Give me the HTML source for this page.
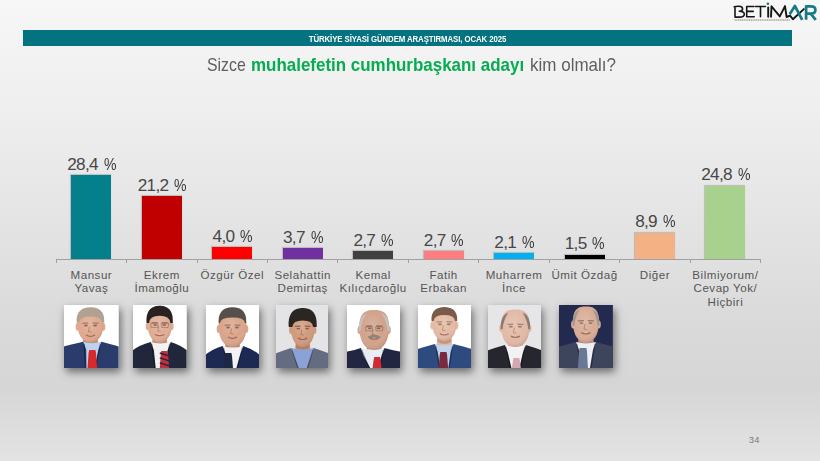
<!DOCTYPE html>
<html><head><meta charset="utf-8">
<style>
html,body{margin:0;padding:0;}
body{width:820px;height:461px;overflow:hidden;position:relative;font-family:"Liberation Sans",sans-serif;
background:linear-gradient(to bottom,#f7f7f7 0%,#eeeeee 25%,#e3e3e3 50%,#d9d9d9 72%,#d6d6d6 84%,#e3e3e3 100%);}
.hdr{position:absolute;left:23px;top:30px;width:769px;height:16px;background:#04737f;}
.hdrt{position:absolute;left:0;top:32.6px;width:815px;text-align:center;color:#fff;font-weight:bold;font-size:8.7px;line-height:12px;letter-spacing:-0.1px;white-space:nowrap;transform:scaleX(0.9)}
.t{position:absolute;top:52.9px;font-size:19px;line-height:24px;white-space:nowrap;transform-origin:0 0}
.g1{color:#5f5f5f}
.gr{color:#06ac50;font-weight:bold}
.bar{position:absolute;width:40px;box-shadow:-0.4px -0.3px 0.8px 0.3px rgba(60,60,60,0.22)}
.val{position:absolute;width:80px;text-align:center;font-size:17.2px;color:#474747;line-height:20px;white-space:nowrap;letter-spacing:-0.7px;word-spacing:1.7px}
.pc{display:inline-block;transform:scaleX(0.82);transform-origin:0 50%;margin-right:-2.7px;color:#3a3a3a}
.cat{position:absolute;width:90px;top:267.5px;text-align:center;font-size:11.6px;color:#555555;line-height:13.8px;white-space:nowrap;letter-spacing:0.5px}
.axis{position:absolute;left:56.20px;top:258.80px;width:704.40px;height:1px;background:#a0a0a0}
.tick{position:absolute;top:259.30px;width:1px;height:3.5px;background:#a0a0a0}
.photo{position:absolute;top:305.1px;height:62.9px;box-shadow:1.5px 4px 8px rgba(0,0,0,0.5)}
.photo svg{display:block;width:100%;height:100%}
.pg{position:absolute;left:748.8px;top:434.2px;font-size:9.4px;color:#7a7a7a;letter-spacing:0.2px}
.logo{position:absolute;left:730px;top:0px}
</style></head><body>
<svg width="0" height="0" style="position:absolute"><defs><filter id="bl" x="-10%" y="-10%" width="120%" height="120%"><feGaussianBlur stdDeviation="0.6"/></filter><radialGradient id="fsh" cx="0.45" cy="0.4" r="0.65"><stop offset="0" stop-color="#fff" stop-opacity="0.18"/><stop offset="0.6" stop-color="#fff" stop-opacity="0"/><stop offset="1" stop-color="#502010" stop-opacity="0.22"/></radialGradient></defs></svg>
<svg class="logo" width="90" height="24" viewBox="730 0 90 24">
<g fill="none" stroke="#161616" stroke-width="1.6" stroke-linecap="round" stroke-linejoin="round">
<path d="M734.2 6.8 Q736 6.2 739 6.3 Q742.6 6.6 742.6 9 Q742.6 11 739.3 11.2 Q744.3 11.5 744.3 14.2 Q744.3 17.1 739.5 17.1 L735.4 17.1 M735 6.8 L735 17.1"/>
<path d="M754 6.5 L746.7 6.5 L746.7 16.8 L754.2 16.8 M746.7 11.4 L753.2 11.4"/>
<path d="M755.6 6.5 L765.4 6.5 M760.5 6.5 L760.5 16.8"/>
<path d="M768.2 7.4 L768.2 16.8" stroke-width="1.9"/>
<path stroke-width="1.9" d="M771 16.8 L771.5 6.3 L779.8 16.4 L785 6.1 L786.6 17 L790 15.6 L792.9 19.2 L803.8 9.1"/>
</g>
<circle cx="767.9" cy="3.7" r="1.3" fill="#1c7884"/>
<g fill="none" stroke="#167a86" stroke-width="2.7" stroke-linecap="butt" stroke-linejoin="round">
<path d="M789.7 14.2 L794.9 6.0 L802.2 19.8"/>
<path d="M806.1 19.8 L806.1 6.4 L811 6.4 Q815.4 6.4 815.4 10 Q815.4 13.6 811 13.6 L806.1 13.6 M810.6 13.6 L815.8 19.8"/>
</g>
<path d="M734.5 20 L790 20" stroke="#808080" stroke-width="1.0" stroke-dasharray="1.3 0.5"/>
</svg>
<div class="hdr"></div>
<div class="hdrt" id="hdrt">TÜRKİYE SİYASİ GÜNDEM ARAŞTIRMASI, OCAK 2025</div>
<span class="t g1" id="t1" style="left:206.8px;transform:scaleX(0.835)">Sizce</span>
<span class="t gr" id="t2" style="left:250.5px;transform:scaleX(0.892)">muhalefetin cumhurbaşkanı adayı</span>
<span class="t g1" id="t3" style="left:529.5px;transform:scaleX(0.895)">kim olmalı?</span>
<div class="bar" style="left:71.42px;top:175.09px;height:84.21px;background:#03808b"></div><div class="val" id="v0" style="left:51.42px;top:153.59px">28,4 <span class="pc">%</span></div><div class="cat" id="c0" style="left:46.42px">Mansur<br>Yavaş</div><div class="bar" style="left:141.86px;top:196.44px;height:62.86px;background:#c00000"></div><div class="val" id="v1" style="left:121.86px;top:174.94px">21,2 <span class="pc">%</span></div><div class="cat" id="c1" style="left:116.86px">Ekrem<br>İmamoğlu</div><div class="bar" style="left:212.30px;top:247.44px;height:11.86px;background:#ff0000"></div><div class="val" id="v2" style="left:192.30px;top:225.94px">4,0 <span class="pc">%</span></div><div class="cat" id="c2" style="left:187.30px">Özgür Özel</div><div class="bar" style="left:282.74px;top:248.33px;height:10.97px;background:#7030a0"></div><div class="val" id="v3" style="left:262.74px;top:226.83px">3,7 <span class="pc">%</span></div><div class="cat" id="c3" style="left:257.74px">Selahattin<br>Demirtaş</div><div class="bar" style="left:353.18px;top:251.29px;height:8.01px;background:#404040"></div><div class="val" id="v4" style="left:333.18px;top:229.79px">2,7 <span class="pc">%</span></div><div class="cat" id="c4" style="left:328.18px">Kemal<br>Kılıçdaroğlu</div><div class="bar" style="left:423.62px;top:251.29px;height:8.01px;background:#ff7c80"></div><div class="val" id="v5" style="left:403.62px;top:229.79px">2,7 <span class="pc">%</span></div><div class="cat" id="c5" style="left:398.62px">Fatih<br>Erbakan</div><div class="bar" style="left:494.06px;top:253.07px;height:6.23px;background:#00b0f0"></div><div class="val" id="v6" style="left:474.06px;top:231.57px">2,1 <span class="pc">%</span></div><div class="cat" id="c6" style="left:469.06px">Muharrem<br>İnce</div><div class="bar" style="left:564.50px;top:254.85px;height:4.45px;background:#000000"></div><div class="val" id="v7" style="left:544.50px;top:233.35px">1,5 <span class="pc">%</span></div><div class="cat" id="c7" style="left:539.50px">Ümit Özdağ</div><div class="bar" style="left:634.94px;top:232.91px;height:26.39px;background:#f4b183"></div><div class="val" id="v8" style="left:614.94px;top:211.41px">8,9 <span class="pc">%</span></div><div class="cat" id="c8" style="left:609.94px">Diğer</div><div class="bar" style="left:705.38px;top:185.77px;height:73.53px;background:#a9d18e"></div><div class="val" id="v9" style="left:685.38px;top:164.27px">24,8 <span class="pc">%</span></div><div class="cat" id="c9" style="left:680.38px">Bilmiyorum/<br>Cevap Yok/<br>Hiçbiri</div>
<div class="axis"></div>
<div class="tick" style="left:55.70px"></div><div class="tick" style="left:126.14px"></div><div class="tick" style="left:196.58px"></div><div class="tick" style="left:267.02px"></div><div class="tick" style="left:337.46px"></div><div class="tick" style="left:407.90px"></div><div class="tick" style="left:478.34px"></div><div class="tick" style="left:548.78px"></div><div class="tick" style="left:619.22px"></div><div class="tick" style="left:689.66px"></div><div class="tick" style="left:760.10px"></div>
<div class="photo" style="left:64.3px;width:54.6px"><svg viewBox="0 0 54 63" preserveAspectRatio="none"><defs><clipPath id="cp0"><rect width="54" height="63"/></clipPath></defs><g clip-path="url(#cp0)"><rect width="54" height="63" fill="#ffffff"/><g filter="url(#bl)"><path d="M19.20 29.60 L33.20 29.60 L34.20 40.80 L18.20 40.80Z" fill="#e0a88e"/><path d="M19.20 34.60 Q26.2 40.60 33.20 34.60 L33.20 38.60 Q26.2 42.60 19.20 38.60Z" fill="rgba(90,50,30,0.25)"/><path d="M-2 63 L-2 42.00 Q6 39.80 19.00 36.80 L26.20 45.80 L37.00 36.80 Q48 39.80 56 42.00 L56 63Z" fill="#2a3b6c"/><path d="M19.00 36.80 Q26.2 39.80 37.00 36.80 L34.00 44.80 L30.20 63 L22.20 63 L22.00 44.80Z" fill="#bcd2ee"/><path d="M20.00 38.80 L21.20 63 M36.00 38.80 L31.20 63" stroke="rgba(0,0,0,0.35)" stroke-width="1.2" fill="none"/><path d="M24.90 45.00 L31.10 45.00 L31.70 48.00 L32.70 63 L23.30 63 L24.30 48.00Z" fill="#d82a2a"/><ellipse cx="13.70" cy="21.80" rx="2.2" ry="4" fill="#e0a88e"/><ellipse cx="38.70" cy="21.80" rx="2.2" ry="4" fill="#e0a88e"/><path d="M13.40 19.27 C13.40 8.00 19.16 6.00 26.20 6.00 C33.24 6.00 39.00 8.00 39.00 19.27 C39.00 31.60 32.60 37.60 26.20 37.60 C19.80 37.60 13.40 31.60 13.40 19.27Z" fill="#e0a88e"/><path d="M13.40 19.27 C13.40 8.00 19.16 6.00 26.20 6.00 C33.24 6.00 39.00 8.00 39.00 19.27 C39.00 31.60 32.60 37.60 26.20 37.60 C19.80 37.60 13.40 31.60 13.40 19.27Z" fill="url(#fsh)"/><path d="M18.20 18.34 L24.20 18.04 M28.20 18.04 L34.20 18.34" stroke="rgba(50,30,20,0.45)" stroke-width="1.1"/><ellipse cx="21.70" cy="20.54" rx="2" ry="0.9" fill="rgba(40,20,15,0.45)"/><ellipse cx="30.70" cy="20.54" rx="2" ry="0.9" fill="rgba(40,20,15,0.45)"/><path d="M25.20 21.54 L24.20 26.54 L27.20 27.04" stroke="rgba(90,45,30,0.35)" stroke-width="0.9" fill="none"/><path d="M21.70 30.04 Q26.2 32.54 30.70 30.04" stroke="rgba(120,50,40,0.6)" stroke-width="1.3" fill="rgba(250,250,250,0.5)"/><path d="M12.60 17.50 C11.60 5.20 19.40 2.20 26.20 2.20 C33.00 2.20 40.80 5.20 39.80 17.50 L37.50 17.50 Q37.00 11.50 26.20 11.50 Q15.40 11.50 14.90 17.50Z" fill="#b0a292"/></g></g></svg></div><div class="photo" style="left:133.1px;width:53.6px"><svg viewBox="0 0 54 63" preserveAspectRatio="none"><defs><clipPath id="cp1"><rect width="54" height="63"/></clipPath></defs><g clip-path="url(#cp1)"><rect width="54" height="63" fill="#ffffff"/><g filter="url(#bl)"><path d="M19.90 29.60 L33.90 29.60 L34.90 41.00 L18.90 41.00Z" fill="#e0ac92"/><path d="M19.90 34.60 Q26.9 40.60 33.90 34.60 L33.90 38.60 Q26.9 42.60 19.90 38.60Z" fill="rgba(90,50,30,0.25)"/><path d="M-2 63 L-2 46.50 Q6 40.00 18.00 37.00 L26.90 46.00 L38.00 37.00 Q48 40.00 56 46.50 L56 63Z" fill="#22283a"/><path d="M18.00 37.00 Q26.9 40.00 38.00 37.00 L35.00 45.00 L30.90 63 L22.90 63 L21.00 45.00Z" fill="#f2f2f2"/><path d="M19.00 39.00 L21.90 63 M37.00 39.00 L31.90 63" stroke="rgba(0,0,0,0.35)" stroke-width="1.2" fill="none"/><path d="M28.60 46.00 L34.80 46.00 L35.40 49.00 L36.40 63 L27.00 63 L28.00 49.00Z" fill="#c0303a"/><path d="M27.00 48.00 L36.40 51.00" stroke="#1c2444" stroke-width="1.5"/><path d="M27.00 53.00 L36.40 56.00" stroke="#1c2444" stroke-width="1.5"/><path d="M27.00 58.00 L36.40 61.00" stroke="#1c2444" stroke-width="1.5"/><ellipse cx="15.00" cy="21.30" rx="2.2" ry="4" fill="#e0ac92"/><ellipse cx="38.80" cy="21.30" rx="2.2" ry="4" fill="#e0ac92"/><path d="M14.70 18.69 C14.70 7.00 20.19 5.00 26.90 5.00 C33.61 5.00 39.10 7.00 39.10 18.69 C39.10 31.60 33.00 37.60 26.90 37.60 C20.80 37.60 14.70 31.60 14.70 18.69Z" fill="#e0ac92"/><path d="M14.70 18.69 C14.70 7.00 20.19 5.00 26.90 5.00 C33.61 5.00 39.10 7.00 39.10 18.69 C39.10 31.60 33.00 37.60 26.90 37.60 C20.80 37.60 14.70 31.60 14.70 18.69Z" fill="url(#fsh)"/><path d="M18.90 17.80 L24.90 17.50 M28.90 17.50 L34.90 17.80" stroke="rgba(50,30,20,0.45)" stroke-width="1.1"/><ellipse cx="22.40" cy="20.00" rx="2" ry="0.9" fill="rgba(40,20,15,0.45)"/><ellipse cx="31.40" cy="20.00" rx="2" ry="0.9" fill="rgba(40,20,15,0.45)"/><path d="M25.90 21.00 L24.90 26.00 L27.90 26.50" stroke="rgba(90,45,30,0.35)" stroke-width="0.9" fill="none"/><path d="M22.40 29.50 Q26.9 32.00 31.40 29.50" stroke="rgba(120,50,40,0.6)" stroke-width="1.3" fill="rgba(250,250,250,0.5)"/><path d="M17.90 18.50 L25.40 18.50 L24.90 22.50 L18.40 22.50Z M35.90 18.50 L28.40 18.50 L28.90 22.50 L35.40 22.50Z" stroke="rgba(70,50,40,0.45)" stroke-width="0.7" fill="none"/><path d="M13.70 18.00 C12.70 3.80 20.30 0.80 26.90 0.80 C33.50 0.80 41.10 3.80 40.10 18.00 L37.60 18.00 Q37.10 10.80 26.90 10.80 Q16.70 10.80 16.20 18.00Z" fill="#2a2220"/></g></g></svg></div><div class="photo" style="left:205.6px;width:53.0px"><svg viewBox="0 0 54 63" preserveAspectRatio="none"><defs><clipPath id="cp2"><rect width="54" height="63"/></clipPath></defs><g clip-path="url(#cp2)"><rect width="54" height="63" fill="#ffffff"/><g filter="url(#bl)"><path d="M20.00 34.00 L34.00 34.00 L35.00 45.00 L19.00 45.00Z" fill="#daa48a"/><path d="M20.00 39.00 Q27.0 45.00 34.00 39.00 L34.00 43.00 Q27.0 47.00 20.00 43.00Z" fill="rgba(90,50,30,0.25)"/><path d="M-2 63 L-2 51.00 Q6 44.00 17.00 41.00 L27.00 50.00 L38.00 41.00 Q48 44.00 56 51.00 L56 63Z" fill="#1e2a52"/><path d="M17.00 41.00 Q27.0 44.00 38.00 41.00 L35.00 49.00 L31.00 63 L23.00 63 L20.00 49.00Z" fill="#f2f2f2"/><path d="M18.00 43.00 L22.00 63 M37.00 43.00 L32.00 63" stroke="rgba(0,0,0,0.35)" stroke-width="1.2" fill="none"/><path d="M19.60 48.00 L25.90 48.00 L26.50 51.00 L27.50 63 L18.00 63 L19.00 51.00Z" fill="#1e2844"/><ellipse cx="13.10" cy="24.00" rx="2.2" ry="4" fill="#daa48a"/><ellipse cx="40.90" cy="24.00" rx="2.2" ry="4" fill="#daa48a"/><path d="M12.80 21.12 C12.80 8.00 19.19 6.00 27.00 6.00 C34.81 6.00 41.20 8.00 41.20 21.12 C41.20 36.00 34.10 42.00 27.00 42.00 C19.90 42.00 12.80 36.00 12.80 21.12Z" fill="#daa48a"/><path d="M12.80 21.12 C12.80 8.00 19.19 6.00 27.00 6.00 C34.81 6.00 41.20 8.00 41.20 21.12 C41.20 36.00 34.10 42.00 27.00 42.00 C19.90 42.00 12.80 36.00 12.80 21.12Z" fill="url(#fsh)"/><path d="M19.00 20.36 L25.00 20.06 M29.00 20.06 L35.00 20.36" stroke="rgba(50,30,20,0.45)" stroke-width="1.1"/><ellipse cx="22.50" cy="22.56" rx="2" ry="0.9" fill="rgba(40,20,15,0.45)"/><ellipse cx="31.50" cy="22.56" rx="2" ry="0.9" fill="rgba(40,20,15,0.45)"/><path d="M26.00 23.56 L25.00 28.56 L28.00 29.06" stroke="rgba(90,45,30,0.35)" stroke-width="0.9" fill="none"/><path d="M22.50 32.06 Q27.0 34.56 31.50 32.06" stroke="rgba(120,50,40,0.6)" stroke-width="1.3" fill="rgba(250,250,250,0.5)"/><path d="M13.00 18.00 C12.00 5.20 20.00 2.20 27.00 2.20 C34.00 2.20 42.00 5.20 41.00 18.00 L39.70 18.00 Q39.20 12.50 27.00 12.50 Q14.80 12.50 14.30 18.00Z" fill="#56504c"/></g></g></svg></div><div class="photo" style="left:275.5px;width:52.5px"><svg viewBox="0 0 54 63" preserveAspectRatio="none"><defs><clipPath id="cp3"><rect width="54" height="63"/></clipPath></defs><g clip-path="url(#cp3)"><rect width="54" height="63" fill="#e4e4e6"/><g filter="url(#bl)"><path d="M20.50 34.00 L34.50 34.00 L35.50 47.00 L19.50 47.00Z" fill="#d09a7c"/><path d="M20.50 39.00 Q27.5 45.00 34.50 39.00 L34.50 43.00 Q27.5 47.00 20.50 43.00Z" fill="rgba(90,50,30,0.25)"/><path d="M-2 63 L-2 49.00 Q6 46.00 15.50 43.00 L27.50 52.00 L39.00 43.00 Q48 46.00 56 49.00 L56 63Z" fill="#646c80"/><path d="M15.50 43.00 Q27.5 46.00 39.00 43.00 L36.00 51.00 L31.50 63 L23.50 63 L18.50 51.00Z" fill="#8aa2d8"/><path d="M16.50 45.00 L22.50 63 M38.00 45.00 L32.50 63" stroke="rgba(0,0,0,0.35)" stroke-width="1.2" fill="none"/><ellipse cx="15.60" cy="25.00" rx="2.2" ry="4" fill="#d09a7c"/><ellipse cx="39.40" cy="25.00" rx="2.2" ry="4" fill="#d09a7c"/><path d="M15.30 22.28 C15.30 10.00 20.79 8.00 27.50 8.00 C34.21 8.00 39.70 10.00 39.70 22.28 C39.70 36.00 33.60 42.00 27.50 42.00 C21.40 42.00 15.30 36.00 15.30 22.28Z" fill="#d09a7c"/><path d="M15.30 22.28 C15.30 10.00 20.79 8.00 27.50 8.00 C34.21 8.00 39.70 10.00 39.70 22.28 C39.70 36.00 33.60 42.00 27.50 42.00 C21.40 42.00 15.30 36.00 15.30 22.28Z" fill="url(#fsh)"/><path d="M19.50 21.44 L25.50 21.14 M29.50 21.14 L35.50 21.44" stroke="rgba(50,30,20,0.45)" stroke-width="1.1"/><ellipse cx="23.00" cy="23.64" rx="2" ry="0.9" fill="rgba(40,20,15,0.45)"/><ellipse cx="32.00" cy="23.64" rx="2" ry="0.9" fill="rgba(40,20,15,0.45)"/><path d="M26.50 24.64 L25.50 29.64 L28.50 30.14" stroke="rgba(90,45,30,0.35)" stroke-width="0.9" fill="none"/><path d="M23.00 33.14 Q27.5 35.64 32.00 33.14" stroke="rgba(120,50,40,0.6)" stroke-width="1.3" fill="rgba(250,250,250,0.5)"/><path d="M13.10 22.00 C12.10 6.00 20.30 3.00 27.50 3.00 C34.70 3.00 42.90 6.00 41.90 22.00 L38.20 22.00 Q37.70 15.50 27.50 15.50 Q17.30 15.50 16.80 22.00Z" fill="#2c2622"/></g></g></svg></div><div class="photo" style="left:346.5px;width:53.3px"><svg viewBox="0 0 54 63" preserveAspectRatio="none"><defs><clipPath id="cp4"><rect width="54" height="63"/></clipPath></defs><g clip-path="url(#cp4)"><rect width="54" height="63" fill="#ffffff"/><g filter="url(#bl)"><path d="M20.50 37.00 L34.50 37.00 L35.50 47.00 L19.50 47.00Z" fill="#d2a28a"/><path d="M20.50 42.00 Q27.5 48.00 34.50 42.00 L34.50 46.00 Q27.5 50.00 20.50 46.00Z" fill="rgba(90,50,30,0.25)"/><path d="M-2 63 L-2 47.00 Q6 46.00 14.00 43.00 L27.50 52.00 L38.00 43.00 Q48 46.00 56 47.00 L56 63Z" fill="#202640"/><path d="M14.00 43.00 Q27.5 46.00 38.00 43.00 L35.00 51.00 L31.50 63 L23.50 63 L17.00 51.00Z" fill="#e8eef6"/><path d="M15.00 45.00 L22.50 63 M37.00 45.00 L32.50 63" stroke="rgba(0,0,0,0.35)" stroke-width="1.2" fill="none"/><path d="M27.60 52.00 L33.40 52.00 L34.00 55.00 L35.00 63 L26.00 63 L27.00 55.00Z" fill="#d02a30"/><ellipse cx="12.80" cy="25.00" rx="2.2" ry="4" fill="#d2a28a"/><ellipse cx="42.20" cy="25.00" rx="2.2" ry="4" fill="#d2a28a"/><path d="M12.50 21.80 C12.50 7.00 19.25 5.00 27.50 5.00 C35.75 5.00 42.50 7.00 42.50 21.80 C42.50 39.00 35.00 45.00 27.50 45.00 C20.00 45.00 12.50 39.00 12.50 21.80Z" fill="#d2a28a"/><path d="M12.50 21.80 C12.50 7.00 19.25 5.00 27.50 5.00 C35.75 5.00 42.50 7.00 42.50 21.80 C42.50 39.00 35.00 45.00 27.50 45.00 C20.00 45.00 12.50 39.00 12.50 21.80Z" fill="url(#fsh)"/><path d="M19.50 21.20 L25.50 20.90 M29.50 20.90 L35.50 21.20" stroke="rgba(50,30,20,0.45)" stroke-width="1.1"/><ellipse cx="23.00" cy="23.40" rx="2" ry="0.9" fill="rgba(40,20,15,0.45)"/><ellipse cx="32.00" cy="23.40" rx="2" ry="0.9" fill="rgba(40,20,15,0.45)"/><path d="M26.50 24.40 L25.50 29.40 L28.50 29.90" stroke="rgba(90,45,30,0.35)" stroke-width="0.9" fill="none"/><path d="M23.00 32.90 Q27.5 35.40 32.00 32.90" stroke="rgba(120,50,40,0.6)" stroke-width="1.3" fill="rgba(250,250,250,0.5)"/><path d="M18.50 21.90 L26.00 21.90 L25.50 25.90 L19.00 25.90Z M36.50 21.90 L29.00 21.90 L29.50 25.90 L36.00 25.90Z" stroke="rgba(70,50,40,0.45)" stroke-width="0.7" fill="none"/><path d="M21.50 32.40 Q27.5 28.40 33.50 32.40 Q27.5 31.40 21.50 32.40Z" fill="#8a827c" stroke="#8a827c" stroke-width="1.4"/><path d="M11.90 26.00 Q11.70 11.00 20.00 8.20 Q14.50 17.00 13.90 26.00Z M43.10 26.00 Q43.30 11.00 35.00 8.20 Q40.50 17.00 41.10 26.00Z" fill="#c4c0bc"/></g></g></svg></div><div class="photo" style="left:418.2px;width:53.3px"><svg viewBox="0 0 54 63" preserveAspectRatio="none"><defs><clipPath id="cp5"><rect width="54" height="63"/></clipPath></defs><g clip-path="url(#cp5)"><rect width="54" height="63" fill="#ffffff"/><g filter="url(#bl)"><path d="M19.70 28.00 L33.70 28.00 L34.70 43.00 L18.70 43.00Z" fill="#e4baa4"/><path d="M19.70 33.00 Q26.7 39.00 33.70 33.00 L33.70 37.00 Q26.7 41.00 19.70 37.00Z" fill="rgba(90,50,30,0.25)"/><path d="M-2 63 L-2 44.50 Q6 42.00 17.00 39.00 L26.70 48.00 L36.00 39.00 Q48 42.00 56 44.50 L56 63Z" fill="#2e4c80"/><path d="M17.00 39.00 Q26.7 42.00 36.00 39.00 L33.00 47.00 L30.70 63 L22.70 63 L20.00 47.00Z" fill="#c0d4ee"/><path d="M18.00 41.00 L21.70 63 M35.00 41.00 L31.70 63" stroke="rgba(0,0,0,0.35)" stroke-width="1.2" fill="none"/><path d="M22.60 47.00 L28.90 47.00 L29.50 50.00 L30.50 63 L21.00 63 L22.00 50.00Z" fill="#7a2a3e"/><ellipse cx="14.70" cy="20.50" rx="2.2" ry="4" fill="#e4baa4"/><ellipse cx="38.70" cy="20.50" rx="2.2" ry="4" fill="#e4baa4"/><path d="M14.40 18.02 C14.40 7.00 19.93 5.00 26.70 5.00 C33.47 5.00 39.00 7.00 39.00 18.02 C39.00 30.00 32.85 36.00 26.70 36.00 C20.55 36.00 14.40 30.00 14.40 18.02Z" fill="#e4baa4"/><path d="M14.40 18.02 C14.40 7.00 19.93 5.00 26.70 5.00 C33.47 5.00 39.00 7.00 39.00 18.02 C39.00 30.00 32.85 36.00 26.70 36.00 C20.55 36.00 14.40 30.00 14.40 18.02Z" fill="url(#fsh)"/><path d="M18.70 17.06 L24.70 16.76 M28.70 16.76 L34.70 17.06" stroke="rgba(50,30,20,0.4)" stroke-width="1.1"/><ellipse cx="22.20" cy="19.26" rx="2" ry="0.9" fill="rgba(40,20,15,0.4)"/><ellipse cx="31.20" cy="19.26" rx="2" ry="0.9" fill="rgba(40,20,15,0.4)"/><path d="M25.70 20.26 L24.70 25.26 L27.70 25.76" stroke="rgba(90,45,30,0.35)" stroke-width="0.9" fill="none"/><path d="M22.20 28.76 Q26.7 31.26 31.20 28.76" stroke="rgba(120,50,40,0.6)" stroke-width="1.3" fill="rgba(250,250,250,0.5)"/><path d="M13.70 16.00 C12.70 5.00 20.20 2.00 26.70 2.00 C33.20 2.00 40.70 5.00 39.70 16.00 L37.50 16.00 Q37.00 10.00 26.70 10.00 Q16.40 10.00 15.90 16.00Z" fill="#7a5a48"/></g></g></svg></div><div class="photo" style="left:487.7px;width:53.8px"><svg viewBox="0 0 54 63" preserveAspectRatio="none"><defs><clipPath id="cp6"><rect width="54" height="63"/></clipPath></defs><g clip-path="url(#cp6)"><rect width="54" height="63" fill="#e6e6e8"/><g filter="url(#bl)"><path d="M20.50 34.00 L34.50 34.00 L35.50 44.00 L19.50 44.00Z" fill="#e2baa6"/><path d="M20.50 39.00 Q27.5 45.00 34.50 39.00 L34.50 43.00 Q27.5 47.00 20.50 43.00Z" fill="rgba(90,50,30,0.25)"/><path d="M-2 63 L-2 46.00 Q6 43.00 17.00 40.00 L27.50 49.00 L38.00 40.00 Q48 43.00 56 46.00 L56 63Z" fill="#26262e"/><path d="M17.00 40.00 Q27.5 43.00 38.00 40.00 L35.00 48.00 L31.50 63 L23.50 63 L20.00 48.00Z" fill="#f2f2f2"/><path d="M18.00 42.00 L22.50 63 M37.00 42.00 L32.50 63" stroke="rgba(0,0,0,0.35)" stroke-width="1.2" fill="none"/><path d="M25.60 53.00 L31.40 53.00 L32.00 56.00 L33.00 63 L24.00 63 L25.00 56.00Z" fill="#d4a8b0"/><ellipse cx="13.50" cy="23.20" rx="2.2" ry="4" fill="#e2baa6"/><ellipse cx="41.50" cy="23.20" rx="2.2" ry="4" fill="#e2baa6"/><path d="M13.20 20.19 C13.20 6.40 19.63 4.40 27.50 4.40 C35.37 4.40 41.80 6.40 41.80 20.19 C41.80 36.00 34.65 42.00 27.50 42.00 C20.35 42.00 13.20 36.00 13.20 20.19Z" fill="#e2baa6"/><path d="M13.20 20.19 C13.20 6.40 19.63 4.40 27.50 4.40 C35.37 4.40 41.80 6.40 41.80 20.19 C41.80 36.00 34.65 42.00 27.50 42.00 C20.35 42.00 13.20 36.00 13.20 20.19Z" fill="url(#fsh)"/><path d="M19.50 19.50 L25.50 19.20 M29.50 19.20 L35.50 19.50" stroke="rgba(50,30,20,0.4)" stroke-width="1.1"/><ellipse cx="23.00" cy="21.70" rx="2" ry="0.9" fill="rgba(40,20,15,0.4)"/><ellipse cx="32.00" cy="21.70" rx="2" ry="0.9" fill="rgba(40,20,15,0.4)"/><path d="M26.50 22.70 L25.50 27.70 L28.50 28.20" stroke="rgba(90,45,30,0.35)" stroke-width="0.9" fill="none"/><path d="M23.00 31.20 Q27.5 33.70 32.00 31.20" stroke="rgba(120,50,40,0.6)" stroke-width="1.3" fill="rgba(250,250,250,0.5)"/><path d="M12.60 24.20 Q12.40 10.04 20.35 7.41 Q15.20 15.68 14.60 24.20Z M42.40 24.20 Q42.60 10.04 34.65 7.41 Q39.80 15.68 40.40 24.20Z" fill="#8a7a72"/></g></g></svg></div><div class="photo" style="left:558.9px;width:53.9px"><svg viewBox="0 0 54 63" preserveAspectRatio="none"><defs><clipPath id="cp7"><rect width="54" height="63"/></clipPath></defs><g clip-path="url(#cp7)"><rect width="54" height="63" fill="#232a50"/><g filter="url(#bl)"><path d="M20.00 29.60 L34.00 29.60 L35.00 41.00 L19.00 41.00Z" fill="#d8ac96"/><path d="M20.00 34.60 Q27.0 40.60 34.00 34.60 L34.00 38.60 Q27.0 42.60 20.00 38.60Z" fill="rgba(90,50,30,0.25)"/><path d="M-2 63 L-2 42.00 Q6 40.00 17.00 37.00 L27.00 46.00 L37.00 37.00 Q48 40.00 56 42.00 L56 63Z" fill="#3e445c"/><path d="M17.00 37.00 Q27.0 40.00 37.00 37.00 L34.00 45.00 L31.00 63 L23.00 63 L20.00 45.00Z" fill="#eceff4"/><path d="M18.00 39.00 L22.00 63 M36.00 39.00 L32.00 63" stroke="rgba(0,0,0,0.35)" stroke-width="1.2" fill="none"/><path d="M20.60 43.00 L27.40 43.00 L28.00 46.00 L29.00 63 L19.00 63 L20.00 46.00Z" fill="#6a7898"/><ellipse cx="14.30" cy="19.55" rx="2.2" ry="4" fill="#d8ac96"/><ellipse cx="39.70" cy="19.55" rx="2.2" ry="4" fill="#d8ac96"/><path d="M14.00 16.66 C14.00 3.50 19.85 1.50 27.00 1.50 C34.15 1.50 40.00 3.50 40.00 16.66 C40.00 31.60 33.50 37.60 27.00 37.60 C20.50 37.60 14.00 31.60 14.00 16.66Z" fill="#d8ac96"/><path d="M14.00 16.66 C14.00 3.50 19.85 1.50 27.00 1.50 C34.15 1.50 40.00 3.50 40.00 16.66 C40.00 31.60 33.50 37.60 27.00 37.60 C20.50 37.60 14.00 31.60 14.00 16.66Z" fill="url(#fsh)"/><path d="M19.00 15.91 L25.00 15.61 M29.00 15.61 L35.00 15.91" stroke="rgba(50,30,20,0.4)" stroke-width="1.1"/><ellipse cx="22.50" cy="18.11" rx="2" ry="0.9" fill="rgba(40,20,15,0.4)"/><ellipse cx="31.50" cy="18.11" rx="2" ry="0.9" fill="rgba(40,20,15,0.4)"/><path d="M26.00 19.11 L25.00 24.11 L28.00 24.61" stroke="rgba(90,45,30,0.35)" stroke-width="0.9" fill="none"/><path d="M22.50 27.61 Q27.0 30.11 31.50 27.61" stroke="rgba(120,50,40,0.6)" stroke-width="1.3" fill="rgba(250,250,250,0.5)"/><path d="M13.40 20.55 Q13.20 6.92 20.50 4.39 Q16.00 12.33 15.40 20.55Z M40.60 20.55 Q40.80 6.92 33.50 4.39 Q38.00 12.33 38.60 20.55Z" fill="#a09890"/></g></g></svg></div>
<div class="pg">34</div>
</body></html>
